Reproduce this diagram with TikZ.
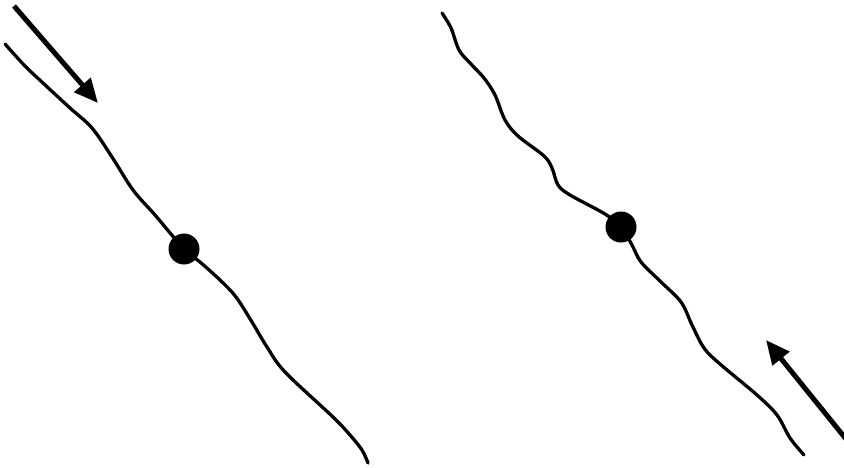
\documentclass[tikz,border=0pt]{standalone}
\usetikzlibrary{arrows.meta}
\begin{document}
\begin{tikzpicture}[x=1pt,y=-1pt,
  wave/.style={line width=3.3pt,line cap=round,line join=round},
  dot/.style={circle,fill=black,inner sep=0pt,minimum size=31pt},
  bigarrow/.style={line width=5pt,-{Triangle[length=24pt,width=21pt]}}]
\useasboundingbox (0,0) rectangle (844,467);
\draw[wave] plot[smooth,tension=0.55] coordinates {(5,44) (25,66) (43,83) (70,108) (92,128) (112,157) (133,190) (155,215) (184,249) (200,262) (220,280) (236,297) (252,322) (267,347) (285,372) (333,417) (350,435) (362,450) (368,463)};
\draw[wave] plot[smooth,tension=0.55] coordinates {(442,13) (451,28) (459,50) (470,63) (484,78) (495,95) (505,120) (518,136) (544,156) (552,168) (558,185) (570,195) (605,214) (621,227) (632,245) (641,262) (660,281) (681,302) (692,325) (704,348) (720,364) (757,395) (777,415) (790,438) (804,455)};
\node[dot] (d1) at (184,249) {};
\node[dot] (d2) at (621,227) {};
\coordinate (a1s) at (14,6);
\coordinate (a1e) at (98,103);
\coordinate (a2s) at (846,439);
\coordinate (a2e) at (766,340);
\draw[bigarrow] (a1s) -- (a1e);
\draw[bigarrow] (a2s) -- (a2e);
\end{tikzpicture}
\end{document}
